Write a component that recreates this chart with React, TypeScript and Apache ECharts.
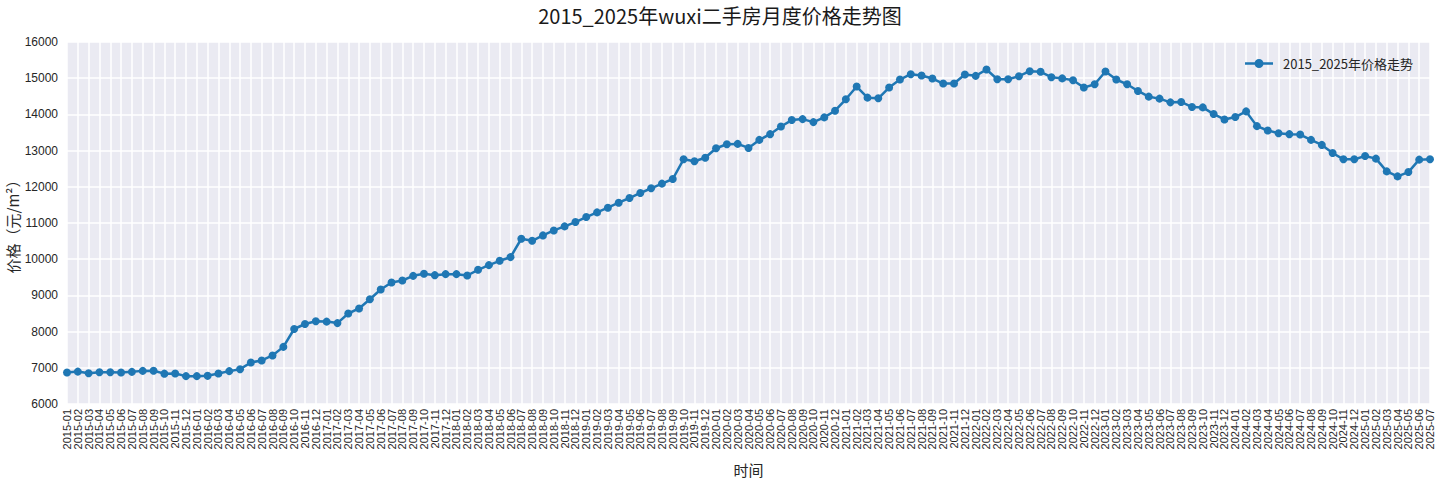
import React, { useEffect, useRef } from "react";
import * as echarts from "echarts";

const TITLE = "2015_2025年wuxi二手房月度价格走势图";
const SERIES_NAME = "2015_2025年价格走势";
const Y_NAME = "价格（元/m²）";
const X_NAME = "时间";

const YEARS = ["2015", "2016", "2017", "2018", "2019", "2020", "2021", "2022", "2023", "2024", "2025"];
const MONTHS = ["01", "02", "03", "04", "05", "06", "07", "08", "09", "10", "11", "12"];

const prices2015 = [6870, 6895, 6850, 6878, 6878, 6868, 6888, 6915, 6918, 6838, 6842, 6770];
const prices2016 = [6770, 6778, 6842, 6908, 6962, 7148, 7202, 7342, 7578, 8072, 8210, 8285];
const prices2017 = [8276, 8235, 8500, 8640, 8895, 9162, 9356, 9411, 9540, 9596, 9559, 9587];
const prices2018 = [9587, 9550, 9707, 9836, 9956, 10057, 10565, 10509, 10657, 10795, 10906, 11026];
const prices2019 = [11164, 11293, 11423, 11561, 11690, 11829, 11958, 12087, 12216, 12760, 12705, 12802];
const prices2020 = [13065, 13176, 13185, 13074, 13296, 13454, 13667, 13843, 13870, 13787, 13917, 14102];
const prices2021 = [14417, 14769, 14463, 14444, 14741, 14963, 15111, 15074, 14991, 14852, 14852, 15102];
const prices2022 = [15065, 15241, 14972, 14972, 15056, 15194, 15176, 15028, 14995, 14945, 14741, 14833];
const prices2023 = [15185, 14963, 14833, 14648, 14491, 14435, 14333, 14343, 14204, 14194, 14009, 13861];
const prices2024 = [13926, 14083, 13676, 13556, 13481, 13454, 13444, 13296, 13157, 12935, 12759, 12759];
const prices2025 = [12852, 12778, 12426, 12287, 12407, 12750, 12759];

const Y_MIN = 6000;
const Y_MAX = 16000;
const Y_INTERVAL = 1000;

const prices = [
  ...prices2015, ...prices2016, ...prices2017, ...prices2018, ...prices2019, ...prices2020,
  ...prices2021, ...prices2022, ...prices2023, ...prices2024, ...prices2025,
];
const categories: string[] = [];
YEARS.forEach((y) => MONTHS.forEach((m) => categories.push(`${y}-${m}`)));
categories.length = prices.length;

const CJK = '"Noto Sans CJK SC", "DejaVu Sans", sans-serif';
const LAT = '"Liberation Sans", Arial, sans-serif';
const LEGEND_ICON =
  "path://M0,3.7 L28,3.7 L28,6.3 L0,6.3 Z M9.5,5 A4.5,4.5 0 1 1 18.5,5 A4.5,4.5 0 1 1 9.5,5 Z";

export default function App() {
  const ref = useRef<HTMLDivElement>(null);
  useEffect(() => {
    if (!ref.current) return;
    const chart = echarts.init(ref.current, undefined, { renderer: "svg" });
    chart.setOption({
      animation: false,
      backgroundColor: "#ffffff",
      title: {
        text: TITLE,
        left: "center",
        top: 0,
        textStyle: { fontFamily: CJK, fontSize: 20, fontWeight: "normal", color: "#1a1a1a" },
      },
      legend: {
        data: [{ name: SERIES_NAME, icon: LEGEND_ICON }],
        right: 22,
        top: 52,
        itemWidth: 28,
        itemHeight: 10,
        textStyle: { fontFamily: CJK, fontSize: 13, color: "#262626", padding: [0, 0, 0, 5] },
      },
      grid: {
        left: 67,
        right: 10,
        top: 42,
        bottom: 76,
        backgroundColor: "#EAEAF2",
        show: true,
        borderWidth: 0,
        containLabel: false,
        outerBoundsMode: "none",
      },
      xAxis: {
        type: "category",
        data: categories,
        boundaryGap: false,
        name: X_NAME,
        nameLocation: "middle",
        nameGap: 58,
        nameMoveOverlap: false,
        nameTextStyle: { fontFamily: CJK, fontSize: 15, color: "#262626" },
        axisLine: { show: false },
        axisTick: { show: false },
        axisLabel: {
          interval: 0,
          rotate: 90,
          fontFamily: LAT,
          fontSize: 11,
          color: "#262626",
          margin: 5,
        },
        splitLine: { show: true, interval: 0, lineStyle: { color: "#ffffff", width: 1.5 } },
      },
      yAxis: {
        type: "value",
        min: Y_MIN,
        max: Y_MAX,
        interval: Y_INTERVAL,
        name: Y_NAME,
        nameLocation: "middle",
        nameGap: 47,
        nameMoveOverlap: false,
        nameTextStyle: { fontFamily: CJK, fontSize: 15, color: "#262626" },
        axisLine: { show: false },
        axisTick: { show: false },
        axisLabel: {
          fontFamily: LAT,
          fontSize: 12,
          color: "#262626",
          margin: 9,
          formatter: (v: number) => String(v),
        },
        splitLine: { show: true, lineStyle: { color: "#ffffff", width: 1.5 } },
      },
      series: [
        {
          name: SERIES_NAME,
          type: "line",
          data: prices,
          color: "#1f77b4",
          symbol: "circle",
          symbolSize: 8,
          showSymbol: true,
          lineStyle: { width: 2.5, color: "#1f77b4" },
          itemStyle: { color: "#1f77b4" },
        },
      ],
    });
    return () => chart.dispose();
  }, []);
  return (
    <div
      ref={ref}
      style={{ position: "absolute", left: 0, top: 0, width: 1440, height: 480 }}
    />
  );
}
